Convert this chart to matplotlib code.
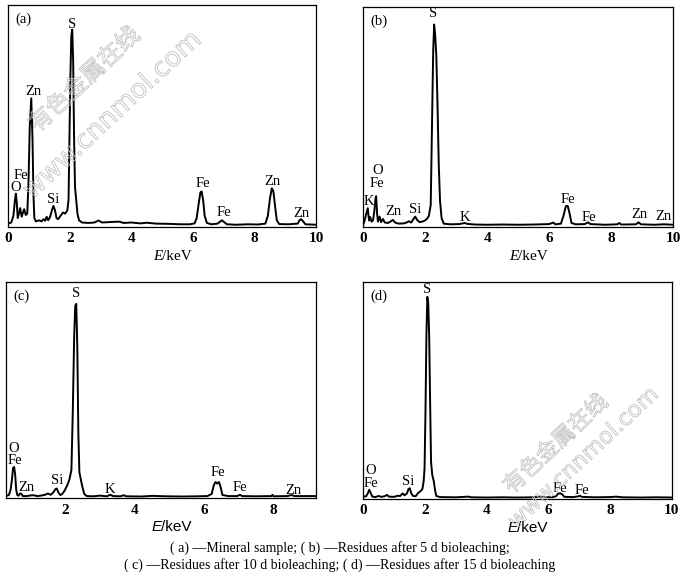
import matplotlib
matplotlib.use('Agg')
import matplotlib.pyplot as plt
import matplotlib.patheffects as pe

plt.rcParams.update({
    'font.family': ['Liberation Serif', 'DejaVu Serif'],
    'font.size': 10,
    'axes.linewidth': 0.9,
})

# ---- spectra: energy (keV) and counts (% of axis height) ----
a_energy = [0.00, 0.10, 0.17, 0.22, 0.25, 0.28, 0.31, 0.35, 0.39, 0.44, 0.48, 0.52, 0.57, 0.62,
            0.66, 0.70, 0.75, 0.79, 0.82, 0.85, 0.90, 1.00, 1.08, 1.15, 1.20, 1.25, 1.30, 1.36,
            1.42, 1.47, 1.52, 1.57, 1.62, 1.70, 1.78, 1.85, 1.92, 1.96, 1.99, 2.02, 2.05, 2.08,
            2.11, 2.14, 2.17, 2.21, 2.25, 2.30, 2.40, 2.60, 2.80, 2.93, 3.05, 3.30, 3.60, 3.75,
            4.00, 4.30, 4.50, 4.80, 5.20, 5.60, 5.90, 6.05, 6.12, 6.18, 6.24, 6.28, 6.33, 6.38,
            6.45, 6.60, 6.80, 6.88, 6.94, 7.00, 7.10, 7.40, 7.80, 8.10, 8.35, 8.43, 8.50, 8.56,
            8.61, 8.66, 8.72, 8.80, 9.10, 9.40, 9.46, 9.51, 9.57, 9.65, 10.0]
a_counts = [1.5, 2.0, 5, 12, 15, 11, 4, 6, 8.5, 4.6, 6.5, 8, 5.4, 6,
            20, 45, 58, 40, 15, 4, 2.5, 3, 2.5, 3.5, 2.8, 4.6, 3, 4.5,
            7.5, 9.5, 7.5, 4, 3.5, 5, 6.5, 6, 7.5, 12, 40, 68, 86, 89,
            75, 40, 18, 12, 6, 3, 2, 1.8, 2, 2.9, 2, 2.2, 2.4, 1.8,
            2, 1.6, 1.9, 1.5, 1.4, 1.2, 1.2, 1.6, 4, 10, 15.5, 16, 12, 5,
            1.8, 1.2, 1.5, 2.4, 3, 2.3, 1.2, 1.0, 1.2, 1.1, 1.5, 5, 13, 17.4,
            16, 10, 3, 1.3, 1.2, 1.5, 3, 3.5, 2.6, 1.2, 1.0]

b_energy = [0.00, 0.05, 0.10, 0.15, 0.19, 0.23, 0.27, 0.32, 0.36, 0.40, 0.42, 0.45, 0.48, 0.53,
            0.58, 0.64, 0.70, 0.80, 0.88, 0.96, 1.03, 1.15, 1.30, 1.40, 1.48, 1.55, 1.62, 1.68,
            1.75, 1.82, 1.95, 2.05, 2.12, 2.18, 2.22, 2.26, 2.29, 2.32, 2.36, 2.40, 2.44, 2.48,
            2.53, 2.60, 2.80, 3.10, 3.28, 3.35, 3.60, 4.00, 4.50, 5.00, 5.50, 6.00, 6.13, 6.20,
            6.38, 6.46, 6.54, 6.60, 6.66, 6.72, 6.85, 7.15, 7.25, 7.33, 7.80, 8.20, 8.26, 8.32,
            8.80, 8.88, 8.96, 9.40, 9.70, 10.0]
b_counts = [1.0, 3, 6, 8.5, 3, 4.5, 2.4, 3, 7, 13, 14, 6, 2.4, 4.7,
            2.2, 3.6, 2, 1.8, 2.4, 3.2, 2, 1.5, 1.6, 2, 2.6, 2, 3.5, 4.7,
            3, 2.2, 2.6, 3.5, 5, 10, 45, 80, 92, 88, 78, 55, 28, 12,
            4, 1.5, 1.2, 1.3, 1.8, 1.4, 1.1, 1.0, 1.1, 1.0, 1.1, 1.3, 2, 1.2,
            1.5, 5, 9.5, 9.5, 6, 1.8, 1.2, 1.3, 2.1, 1.3, 1.0, 1.2, 1.8, 1.1,
            1.2, 2.1, 1.2, 1.0, 1.2, 1.0]

c_energy = [0.30, 0.38, 0.43, 0.47, 0.50, 0.53, 0.56, 0.59, 0.62, 0.66, 0.70, 0.74, 0.78, 0.90,
            1.00, 1.08, 1.20, 1.30, 1.42, 1.50, 1.58, 1.65, 1.72, 1.76, 1.80, 1.86, 1.92, 1.99,
            2.06, 2.12, 2.18, 2.22, 2.26, 2.29, 2.32, 2.35, 2.38, 2.41, 2.46, 2.50, 2.55, 2.62,
            2.80, 3.00, 3.20, 3.30, 3.38, 3.60, 3.68, 3.76, 4.20, 4.50, 4.90, 5.40, 5.80, 6.10,
            6.22, 6.28, 6.33, 6.38, 6.43, 6.48, 6.53, 6.70, 6.96, 7.03, 7.10, 7.50, 7.94, 7.97,
            8.00, 8.40, 8.52, 8.60, 9.23]
c_counts = [1, 1.5, 4, 9, 14, 14.5, 11, 4, 1.5, 1.2, 2.2, 2.0, 1, 1,
            1.3, 1.4, 1.0, 1.2, 1.6, 2.2, 1.6, 2.5, 4.2, 4.5, 2.8, 1.5, 2, 3.7,
            6, 8.5, 13, 40, 75, 89, 90, 70, 30, 12, 8, 5, 2, 1,
            0.9, 1.2, 0.9, 1.6, 1.0, 0.9, 1.4, 0.9, 0.8, 1.1, 0.9, 0.8, 0.9, 1.0,
            2, 6, 7.5, 6.8, 7.5, 5, 1.5, 1, 1, 1.6, 1, 0.9, 1.0, 1.6,
            0.9, 1.0, 1.5, 1.0, 1.0]

d_energy = [0.00, 0.10, 0.15, 0.20, 0.25, 0.30, 0.40, 0.50, 0.60, 0.70, 0.77, 0.84, 1.00, 1.12,
            1.20, 1.28, 1.34, 1.42, 1.47, 1.51, 1.56, 1.62, 1.70, 1.79, 1.86, 1.92, 1.96, 1.99,
            2.02, 2.05, 2.08, 2.11, 2.14, 2.17, 2.20, 2.24, 2.29, 2.33, 2.37, 2.50, 3.00, 3.41,
            3.50, 4.00, 4.50, 5.00, 5.50, 5.73, 5.90, 6.15, 6.25, 6.31, 6.38, 6.45, 6.52, 6.80,
            6.96, 7.02, 7.08, 7.50, 8.00, 8.20, 8.40, 9.00, 9.50, 10.0]
d_counts = [1.0, 1.2, 2.5, 4.2, 2.5, 1.0, 0.8, 1.3, 0.9, 1.2, 1.8, 1.0, 0.9, 1.4,
            1.3, 2.5, 1.6, 2.5, 4.5, 4.9, 2.5, 1.3, 1.2, 2.8, 3.5, 4.5, 8, 14,
            40, 75, 93, 90, 75, 45, 17, 11, 8, 4, 1.3, 0.8, 0.7, 1.0,
            0.7, 0.6, 0.7, 0.6, 0.7, 1.0, 0.7, 0.8, 1.2, 2.3, 2.6, 2.0, 0.9, 0.8,
            1.1, 1.4, 0.9, 0.7, 0.8, 1.0, 0.7, 0.6, 0.7, 0.6]

# ---- peak labels: (text, energy, height) ----
a_labels = [('S', 2.08, 91.4), ('Zn', 0.82, 61), ('Fe', 0.41, 23.1), ('O', 0.23, 17.9),
            ('Si', 1.47, 12.6), ('Fe', 6.31, 19.7), ('Fe', 7.01, 6.4), ('Zn', 8.59, 20.4),
            ('Zn', 9.53, 6.2)]
b_labels = [('S', 2.27, 97.1), ('O', 0.46, 25.6), ('Fe', 0.44, 19.9), ('K', 0.17, 11.5),
            ('Zn', 0.98, 7), ('Si', 1.68, 8), ('K', 3.29, 4.4), ('Fe', 6.59, 12.3),
            ('Fe', 7.27, 4.4), ('Zn', 8.91, 5.5), ('Zn', 9.69, 4.7)]
c_labels = [('S', 2.31, 95), ('O', 0.53, 23), ('Fe', 0.56, 17.6), ('Zn', 0.87, 5.2),
            ('Si', 1.76, 8.3), ('K', 3.29, 4), ('Fe', 6.39, 11.7), ('Fe', 7.04, 4.8),
            ('Zn', 8.58, 3.4)]
d_labels = [('S', 2.08, 96.6), ('O', 0.23, 13), ('Fe', 0.25, 7.2), ('Si', 1.47, 8),
            ('Fe', 6.38, 4.9), ('Fe', 7.08, 3.8)]

caption = ["( a) \u2014Mineral sample; ( b) \u2014Residues after 5 d bioleaching;",
           "( c) \u2014Residues after 10 d bioleaching; ( d) \u2014Residues after 15 d bioleaching"]

fig = plt.figure(figsize=(6.8, 5.76), dpi=100)

serif = ['Liberation Serif', 'DejaVu Serif']
sans = ['Liberation Sans', 'DejaVu Sans']

panels = [
    ('(a)', a_energy, a_counts, a_labels, [0.012, 0.606, 0.453, 0.385], (0, 10), [0, 2, 4, 6, 8, 10], serif),
    ('(b)', b_energy, b_counts, b_labels, [0.534, 0.606, 0.456, 0.382], (0, 10), [0, 2, 4, 6, 8, 10], serif),
    ('(c)', c_energy, c_counts, c_labels, [0.009, 0.135, 0.456, 0.375], (0.30, 9.23), [2, 4, 6, 8], sans),
    ('(d)', d_energy, d_counts, d_labels, [0.534, 0.134, 0.454, 0.377], (0, 10), [0, 2, 4, 6, 8, 10], sans),
]

for tag, en, ct, labels, rect, xlim, ticks, lab_font in panels:
    ax = fig.add_axes(rect)
    ax.plot(en, ct, color='black', lw=1.4, solid_joinstyle='round')
    ax.set_xlim(*xlim)
    ax.set_ylim(0, 100)
    ax.set_yticks([])
    ax.set_xticks(ticks)
    ax.tick_params(axis='x', length=0, pad=4, labelsize=11)
    for t in ax.get_xticklabels():
        t.set_fontweight('bold')
    ax.text(0.025, 0.965, tag, transform=ax.transAxes, ha='left', va='top', fontsize=10.5)
    for txt, x, y in labels:
        ax.text(x, y, txt, ha='center', va='center', fontsize=10.5)
    # axis title "E/keV" with italic E
    ax.text(0.5, -0.135, 'E', transform=ax.transAxes, ha='right', va='center',
            fontsize=11, style='italic', family=lab_font)
    ax.text(0.5, -0.135, '/keV', transform=ax.transAxes, ha='left', va='center',
            fontsize=11, family=lab_font)

fig.text(0.5, 1 - 548 / 576, caption[0], ha='center', va='center', fontsize=10)
fig.text(0.5, 1 - 565 / 576, caption[1], ha='center', va='center', fontsize=10)

# watermark (hollow grey outline text)
wm = dict(color=(1, 1, 1, 0), rotation=43, ha='center', va='center', zorder=10,
          path_effects=[pe.withStroke(linewidth=0.6, foreground='#c0c0c0')])
fig.text(85 / 680, 1 - 80 / 576, '有色金属在线', fontsize=17,
         family=['Noto Sans CJK SC', 'DejaVu Sans'], **wm)
fig.text(113 / 680, 1 - 115 / 576, 'www.cnnmol.com', fontsize=19,
         family=['DejaVu Sans'], **wm)
fig.text(556 / 680, 1 - 444 / 576, '有色金属在线', fontsize=16,
         family=['Noto Sans CJK SC', 'DejaVu Sans'], **wm)
fig.text(584 / 680, 1 - 458 / 576, 'www.cnnmol.com', fontsize=16,
         family=['DejaVu Sans'], **wm)

fig.savefig('out.png', dpi=100)
